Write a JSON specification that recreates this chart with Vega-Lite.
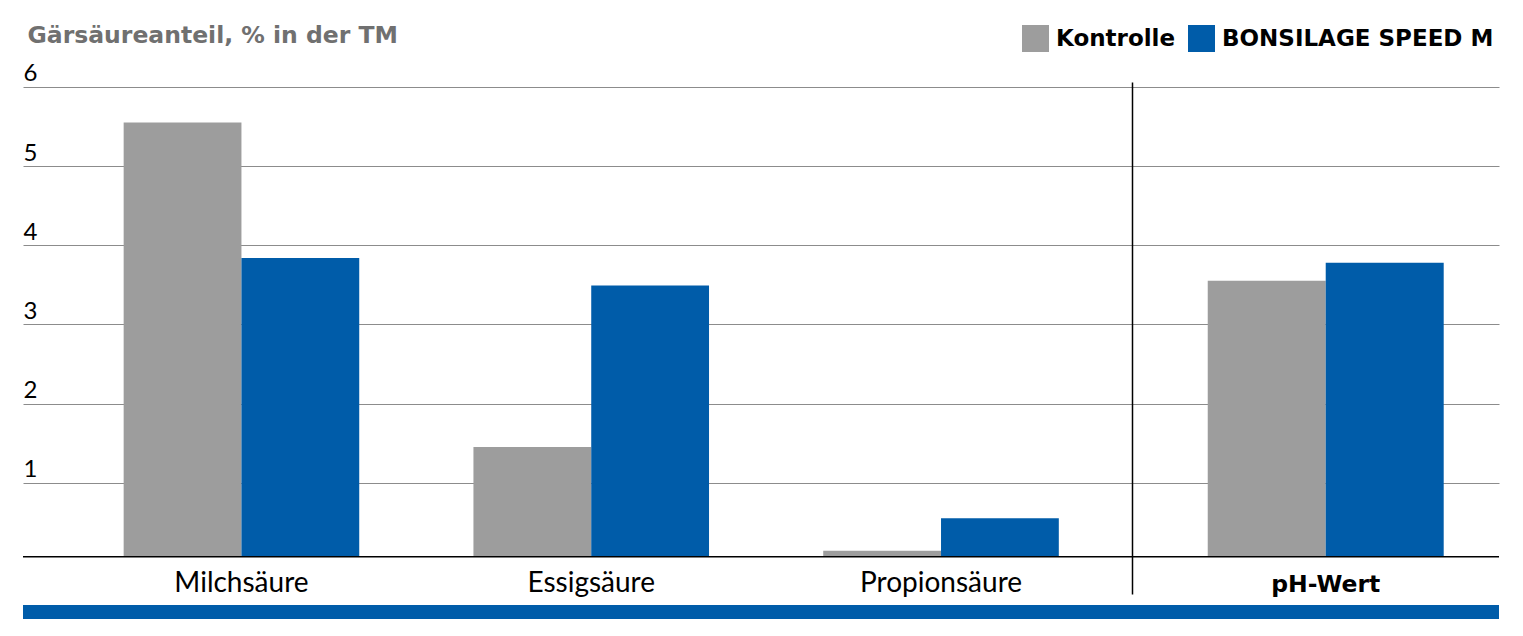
{
  "$schema": "https://vega.github.io/schema/vega-lite/v6.json",
  "padding": {"left": 22, "top": 23, "right": 25, "bottom": 17},
  "autosize": {"type": "pad"},
  "background": "white",
  "config": {"view": {"stroke": null}, "font": "Lato"},
  "datasets": {
    "d": [
      {"group": "Milchsäure", "series": "Kontrolle", "value": 5.55},
      {"group": "Milchsäure", "series": "BONSILAGE SPEED M", "value": 3.84},
      {"group": "Essigsäure", "series": "Kontrolle", "value": 1.45},
      {"group": "Essigsäure", "series": "BONSILAGE SPEED M", "value": 3.49},
      {"group": "Propionsäure", "series": "Kontrolle", "value": 0.14},
      {"group": "Propionsäure", "series": "BONSILAGE SPEED M", "value": 0.55},
      {"group": "pH-Wert", "series": "Kontrolle", "value": 3.55},
      {"group": "pH-Wert", "series": "BONSILAGE SPEED M", "value": 3.78}
    ]
  },
  "spacing": 8,
  "resolve": {"scale": {"color": "shared"}},
  "vconcat": [
    {
      "spacing": 0,
      "bounds": "flush",
      "resolve": {"scale": {"x": "independent", "xOffset": "independent"}},
      "hconcat": [
        {
          "width": 1109,
          "height": 512,
          "data": {"name": "d"},
          "transform": [{"filter": "datum.group != 'pH-Wert'"}],
          "layer": [
            {
              "mark": {"type": "bar"},
              "encoding": {
                "x": {
                  "field": "group",
                  "type": "nominal",
                  "sort": ["Milchsäure", "Essigsäure", "Propionsäure"],
                  "scale": {"paddingInner": 0.3265, "paddingOuter": 0.2485, "align": 0.579, "round": false},
                  "axis": {
                    "title": null,
                    "domain": false,
                    "ticks": false,
                    "tickSize": 0,
                    "labelAngle": 0,
                    "labelPadding": -3,
                    "labelBaseline": "alphabetic",
                    "labelFont": "Lato",
                    "labelFontSize": 28,
                    "labelColor": "black"
                  }
                },
                "xOffset": {"field": "series", "type": "nominal", "sort": ["Kontrolle", "BONSILAGE SPEED M"]},
                "y": {
                  "field": "value",
                  "type": "quantitative",
                  "scale": {"domain": [-0.407, 6.063], "nice": false, "zero": false},
                  "axis": {
                    "values": [1, 2, 3, 4, 5, 6],
                    "format": "d",
                    "title": "Gärsäureanteil, % in der TM",
                    "titleAngle": 0,
                    "titleX": 4,
                    "titleY": -40,
                    "titleAlign": "left",
                    "titleBaseline": "alphabetic",
                    "titleFont": "DejaVu Sans",
                    "titleFontSize": 23.5,
                    "titleFontWeight": "bold",
                    "titleColor": "#707070",
                    "domain": false,
                    "ticks": false,
                    "tickSize": 0,
                    "labelAlign": "left",
                    "labelPadding": 0,
                    "labelBaseline": "alphabetic",
                    "labelOffset": -6,
                    "labelFont": "Lato",
                    "labelFontSize": 24,
                    "labelColor": "black",
                    "grid": true,
                    "gridColor": "#8c8c8c",
                    "gridWidth": 1
                  }
                },
                "y2": {"datum": 0.064},
                "color": {
                  "field": "series",
                  "type": "nominal",
                  "scale": {"domain": ["Kontrolle", "BONSILAGE SPEED M"], "range": ["#9d9d9d", "#005ca9"]},
                  "legend": {
                    "title": null,
                    "orient": "none",
                    "direction": "horizontal",
                    "legendX": 999,
                    "legendY": -57,
                    "padding": 0,
                    "symbolType": "square",
                    "symbolSize": 729,
                    "symbolStrokeWidth": 0,
                    "symbolOpacity": 1,
                    "labelFont": "DejaVu Sans",
                    "labelFontSize": 23,
                    "labelFontWeight": "bold",
                    "labelColor": "black",
                    "labelLimit": 500,
                    "labelOffset": 7,
                    "columnPadding": 12
                  }
                }
              }
            },
            {
              "data": {"values": [{}]},
              "mark": {"type": "rule", "color": "black", "strokeWidth": 1.5},
              "encoding": {"y": {"datum": 0.064}}
            }
          ]
        },
        {
          "width": 367,
          "height": 512,
          "data": {"name": "d"},
          "transform": [{"filter": "datum.group == 'pH-Wert'"}],
          "layer": [
            {
              "mark": {"type": "bar"},
              "encoding": {
                "x": {
                  "field": "group",
                  "type": "nominal",
                  "scale": {"paddingInner": 0.3265, "paddingOuter": 0.187, "align": 0.578, "round": false},
                  "axis": {
                    "title": null,
                    "domain": false,
                    "ticks": false,
                    "tickSize": 0,
                    "labelAngle": 0,
                    "labelPadding": -3,
                    "labelBaseline": "alphabetic",
                    "labelFont": "DejaVu Sans",
                    "labelFontSize": 23.5,
                    "labelFontWeight": "bold",
                    "labelColor": "black"
                  }
                },
                "xOffset": {"field": "series", "type": "nominal", "sort": ["Kontrolle", "BONSILAGE SPEED M"]},
                "y": {
                  "field": "value",
                  "type": "quantitative",
                  "scale": {"domain": [-0.407, 6.063], "nice": false, "zero": false},
                  "axis": {
                    "values": [1, 2, 3, 4, 5, 6],
                    "title": null,
                    "labels": false,
                    "domain": true,
                    "domainColor": "black",
                    "domainWidth": 1.5,
                    "ticks": false,
                    "tickSize": 0,
                    "grid": true,
                    "gridColor": "#8c8c8c",
                    "gridWidth": 1
                  }
                },
                "y2": {"datum": 0.064},
                "color": {
                  "field": "series",
                  "type": "nominal",
                  "scale": {"domain": ["Kontrolle", "BONSILAGE SPEED M"], "range": ["#9d9d9d", "#005ca9"]}
                }
              }
            },
            {
              "data": {"values": [{}]},
              "mark": {"type": "rule", "color": "black", "strokeWidth": 1.5},
              "encoding": {"y": {"datum": 0.064}}
            }
          ]
        }
      ]
    },
    {
      "width": 1476,
      "height": 14,
      "data": {"values": [{}]},
      "view": {"fill": "#005ca9", "stroke": null},
      "mark": {"type": "rect", "color": "#005ca9"},
      "encoding": {}
    }
  ]
}
